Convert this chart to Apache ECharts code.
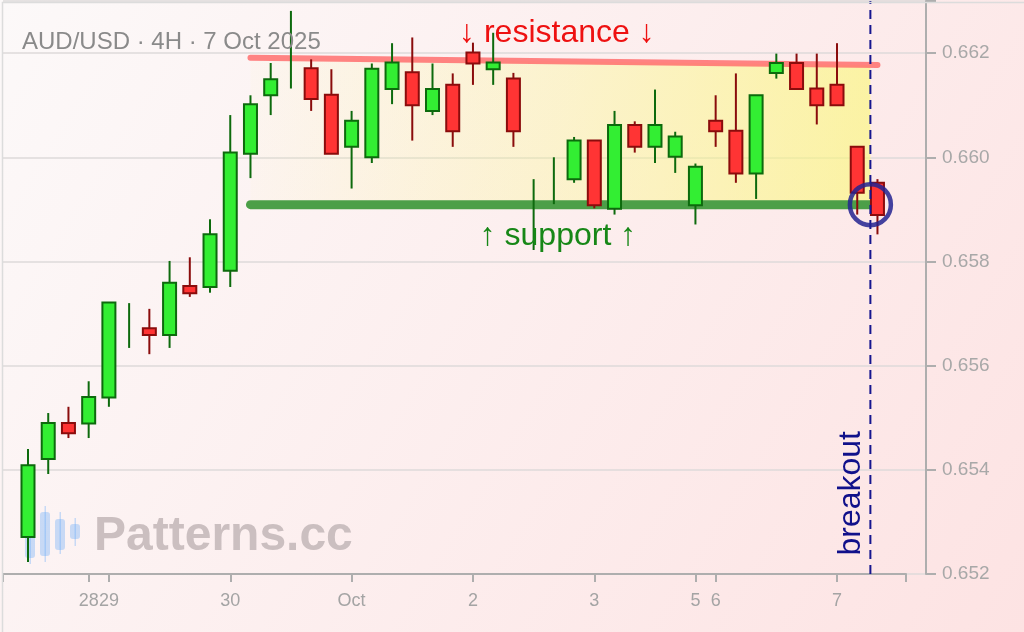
<!DOCTYPE html>
<html>
<head>
<meta charset="utf-8">
<script src="https://cdn.jsdelivr.net/npm/echarts@6/dist/echarts.min.js"></script>
<style>
html,body{margin:0;padding:0;background:#fdf3f3;}
#chart{width:1024px;height:632px;}
</style>
</head>
<body>
<div id="chart"></div>
<script>
// ---- data (AUD/USD 4H candles) ----
const openV  = [0.65271,0.65421,0.65490,0.65489,0.65539,0.65680,0.65672,0.65659,0.65753,0.65751,
                0.65782,0.66007,0.66119,0.66200,0.66171,0.66120,0.66020,0.66000,0.66131,0.66163,
                0.66089,0.66139,0.66201,0.66169,0.66151,0.65900,0.65960,0.65958,0.66032,0.65901,
                0.66062,0.66020,0.66001,0.65908,0.66070,0.66051,0.65969,0.66162,0.66181,0.66132,
                0.66139,0.66020,0.65951];
const closeV = [0.65409,0.65490,0.65470,0.65540,0.65721,0.65680,0.65659,0.65759,0.65739,0.65852,
                0.66009,0.66102,0.66150,0.66200,0.66112,0.66007,0.66070,0.66170,0.66182,0.66100,
                0.66131,0.66050,0.66180,0.66182,0.66050,0.65900,0.65960,0.66032,0.65908,0.66062,
                0.66020,0.66062,0.66040,0.65982,0.66050,0.65969,0.66119,0.66181,0.66131,0.66100,
                0.66100,0.65932,0.65889];
const lowV   = [0.65223,0.65392,0.65461,0.65461,0.65521,0.65634,0.65622,0.65634,0.65732,0.65740,
                0.65751,0.65960,0.66081,0.66132,0.66089,0.66007,0.65940,0.65989,0.66102,0.66032,
                0.66081,0.66020,0.66139,0.66139,0.66020,0.65822,0.65910,0.65951,0.65902,0.65890,
                0.66009,0.65989,0.65970,0.65871,0.66020,0.65951,0.65920,0.66151,0.66131,0.66063,
                0.66100,0.65890,0.65852];
const highV  = [0.65440,0.65509,0.65521,0.65570,0.65721,0.65720,0.65709,0.65801,0.65808,0.65881,
                0.66081,0.66119,0.66181,0.66281,0.66188,0.66169,0.66089,0.66180,0.66219,0.66230,
                0.66180,0.66161,0.66220,0.66239,0.66162,0.65958,0.66000,0.66039,0.66032,0.66089,
                0.66069,0.66130,0.66049,0.65988,0.66119,0.66161,0.66119,0.66199,0.66199,0.66199,
                0.66219,0.66020,0.65958];

const tickIdx  = [3, 4, 10, 16, 22, 28, 33, 34, 40];
const tickText = ['28', '29', '30', 'Oct', '2', '3', '5', '6', '7'];

// pattern lines
const resistanceLine = [[11, 0.66191], [42, 0.66177]];
const supportLine    = [[11, 0.65909], [42, 0.65909]];
const breakoutX = 41.65;
const breakoutLevel = 0.65909;

// annotations
const annoText = ['↓ resistance ↓', '↑ support ↑', 'breakout'];
const annoX    = [26.15, 26.2, 40.72];
const annoY    = [0.66238, 0.65848, 0.65355];

const yMin = 0.652, yMax = 0.663, yStep = 0.002;
const xMin = -1.236, xMaxPlot = 44.40, xMaxAxis = 43.41;

// ---- build ----
const candles = openV.map((o, i) => [i, o, closeV[i], lowV[i], highV[i]]);

const chart = echarts.init(document.getElementById('chart'), null, {renderer: 'canvas'});

const zoneFill = new echarts.graphic.LinearGradient(0, 0, 1, 0, [
  {offset: 0, color: 'rgba(250,250,130,0.04)'},
  {offset: 0.5, color: 'rgba(250,250,125,0.30)'},
  {offset: 1, color: 'rgba(250,248,120,0.62)'}
]);

function resAt(x) {
  const [a, b] = resistanceLine;
  return a[1] + (b[1] - a[1]) * (x - a[0]) / (b[0] - a[0]);
}

const font = '"Liberation Sans", Arial, sans-serif';

const labelBase = {show: true, position: 'inside', fontSize: 32, fontFamily: font, opacity: 1};

const option = {
  animation: false,
  backgroundColor: {
    type: 'linear', x: 0, y: 0, x2: 1, y2: 1,
    colorStops: [{offset: 0, color: '#fcf9f9'}, {offset: 1, color: '#fde3e3'}]
  },
  textStyle: {fontFamily: font},
  grid: [
    {left: 3, right: 98, top: 1, bottom: 58},
    {left: 3, right: 118, top: 1, bottom: 58}
  ],
  xAxis: [
    {gridIndex: 0, type: 'value', min: xMin, max: xMaxPlot, show: false},
    {
      gridIndex: 1, type: 'value', min: xMin, max: xMaxAxis,
      axisLine: {show: true, onZero: false, lineStyle: {color: '#aeaeae', width: 2}},
      axisTick: {show: true, length: 8, customValues: [xMin].concat(tickIdx, [xMaxAxis]),
                 lineStyle: {color: '#aeaeae', width: 2}},
      axisLabel: {customValues: tickIdx, color: '#a4a4a4', fontSize: 18, margin: 18, fontFamily: font,
                  formatter: v => tickText[tickIdx.indexOf(Math.round(v))]},
      splitLine: {show: false}
    }
  ],
  yAxis: [
    {
      gridIndex: 0, type: 'value', position: 'right', min: yMin, max: yMax, interval: yStep,
      axisLine: {show: true, onZero: false, lineStyle: {color: '#aeaeae', width: 2}},
      axisTick: {show: true, length: 10, lineStyle: {color: '#aeaeae', width: 2}},
      axisLabel: {color: '#a8a8a8', fontSize: 19, margin: 16, fontFamily: font,
                  formatter: v => (Math.abs(v - yMax) < 1e-7 ? '' : v.toFixed(3))},
      splitLine: {show: true, lineStyle: {color: '#dedada', width: 1.5}}
    },
    {gridIndex: 1, type: 'value', min: yMin, max: yMax, show: false,
     axisLine: {show: false, onZero: false}}
  ],
  series: [
    {
      type: 'custom', xAxisIndex: 0, yAxisIndex: 0, silent: true, z: 1,
      data: [[resistanceLine[0][0], breakoutX, supportLine[0][1]]],
      encode: {x: [0, 1], y: 2},
      renderItem: function (params, api) {
        const x0 = api.value(0), x1 = api.value(1), s = api.value(2);
        const p1 = api.coord([x0, resAt(x0)]);
        const p2 = api.coord([x1, resAt(x1)]);
        const p3 = api.coord([x1, s]);
        const p4 = api.coord([x0, s]);
        return {type: 'polygon', shape: {points: [p1, p2, p3, p4]}, style: {fill: zoneFill}};
      }
    },
    {
      type: 'line', xAxisIndex: 0, yAxisIndex: 0, silent: true, z: 3,
      data: resistanceLine, symbol: 'none',
      lineStyle: {color: 'rgba(255,110,110,0.85)', width: 6, cap: 'round'}
    },
    {
      type: 'line', xAxisIndex: 0, yAxisIndex: 0, silent: true, z: 3,
      data: supportLine, symbol: 'none',
      lineStyle: {color: '#4c9f48', width: 9, cap: 'round'}
    },
    {
      type: 'custom', xAxisIndex: 0, yAxisIndex: 0, silent: true, z: 4,
      data: candles,
      encode: {x: 0, y: [1, 2, 3, 4]},
      renderItem: function (params, api) {
        const x = api.value(0), o = api.value(1), c = api.value(2), l = api.value(3), h = api.value(4);
        const pH = api.coord([x, h]), pL = api.coord([x, l]);
        const pO = api.coord([x, o]), pC = api.coord([x, c]);
        const up = c >= o;
        const stroke = up ? '#0d6a0d' : '#8a0c0c';
        const fill = up ? '#33ee33' : '#ff3434';
        const children = [{
          type: 'line', shape: {x1: pH[0], y1: pH[1], x2: pL[0], y2: pL[1]},
          style: {stroke: stroke, lineWidth: 2}
        }];
        if (o !== c) {
          const top = Math.min(pO[1], pC[1]), bot = Math.max(pO[1], pC[1]);
          children.push({
            type: 'rect', shape: {x: pO[0] - 6.5, y: top, width: 13, height: bot - top},
            style: {fill: fill, stroke: stroke, lineWidth: 2}
          });
        }
        return {type: 'group', children: children};
      }
    },
    {
      type: 'line', xAxisIndex: 0, yAxisIndex: 0, silent: true, z: 5,
      data: [[breakoutX, yMin], [breakoutX, yMax]], symbol: 'none',
      lineStyle: {color: '#16168f', width: 2, type: [9, 6]}
    },
    {
      type: 'scatter', xAxisIndex: 0, yAxisIndex: 0, silent: true, z: 6,
      data: [[breakoutX, breakoutLevel]], symbol: 'circle', symbolSize: 41,
      itemStyle: {color: 'rgba(0,0,0,0)', borderColor: 'rgba(35,35,145,0.85)', borderWidth: 4.5, opacity: 1}
    },
    {
      type: 'scatter', xAxisIndex: 0, yAxisIndex: 0, silent: true, z: 7,
      symbolSize: 1, itemStyle: {color: 'rgba(0,0,0,0)', opacity: 1},
      data: [
        {value: [annoX[0], annoY[0]], label: Object.assign({}, labelBase, {formatter: annoText[0], color: '#ee1111'})},
        {value: [annoX[1], annoY[1]], label: Object.assign({}, labelBase, {formatter: annoText[1], color: '#178717'})},
        {value: [annoX[2], annoY[2]], label: Object.assign({}, labelBase, {formatter: annoText[2], color: '#10108a', rotate: 90})}
      ]
    }
  ],
  graphic: [
    {
      type: 'text', left: 22, top: 30, z: 10, silent: true,
      style: {text: 'AUD/USD · 4H · 7 Oct 2025', fill: '#8a8a8a', font: '24px ' + font}
    },
    {
      type: 'group', left: 25, top: 500, z: 20, silent: true,
      children: [
        {type: 'rect', shape: {x: 4.5, y: 0, width: 1.5, height: 64}, style: {fill: 'rgba(100,170,250,0.35)'}},
        {type: 'rect', shape: {x: 0, y: 8, width: 10, height: 50, r: 3}, style: {fill: 'rgba(100,170,250,0.35)'}},
        {type: 'rect', shape: {x: 19.5, y: 6, width: 1.5, height: 56}, style: {fill: 'rgba(100,170,250,0.35)'}},
        {type: 'rect', shape: {x: 15, y: 12, width: 10, height: 44, r: 3}, style: {fill: 'rgba(100,170,250,0.35)'}},
        {type: 'rect', shape: {x: 34.5, y: 12, width: 1.5, height: 42}, style: {fill: 'rgba(100,170,250,0.35)'}},
        {type: 'rect', shape: {x: 30, y: 19, width: 10, height: 31, r: 3}, style: {fill: 'rgba(100,170,250,0.35)'}},
        {type: 'rect', shape: {x: 49.5, y: 18, width: 1.5, height: 28}, style: {fill: 'rgba(100,170,250,0.35)'}},
        {type: 'rect', shape: {x: 45, y: 24, width: 10, height: 15, r: 3}, style: {fill: 'rgba(100,170,250,0.35)'}}
      ]
    },
    {
      type: 'text', left: 94, top: 513, z: 20, silent: true,
      style: {text: 'Patterns.cc', fill: '#cbbfc0', font: 'bold 48px ' + font}
    },
    {
      type: 'rect', left: 0, top: 0, z: 30, silent: true,
      shape: {x: 0.75, y: 0.75, width: 1022.5, height: 630.5},
      style: {fill: 'none', stroke: '#dcdcdc', lineWidth: 1.5}
    }
  ]
};

chart.setOption(option);
</script>
</body>
</html>
